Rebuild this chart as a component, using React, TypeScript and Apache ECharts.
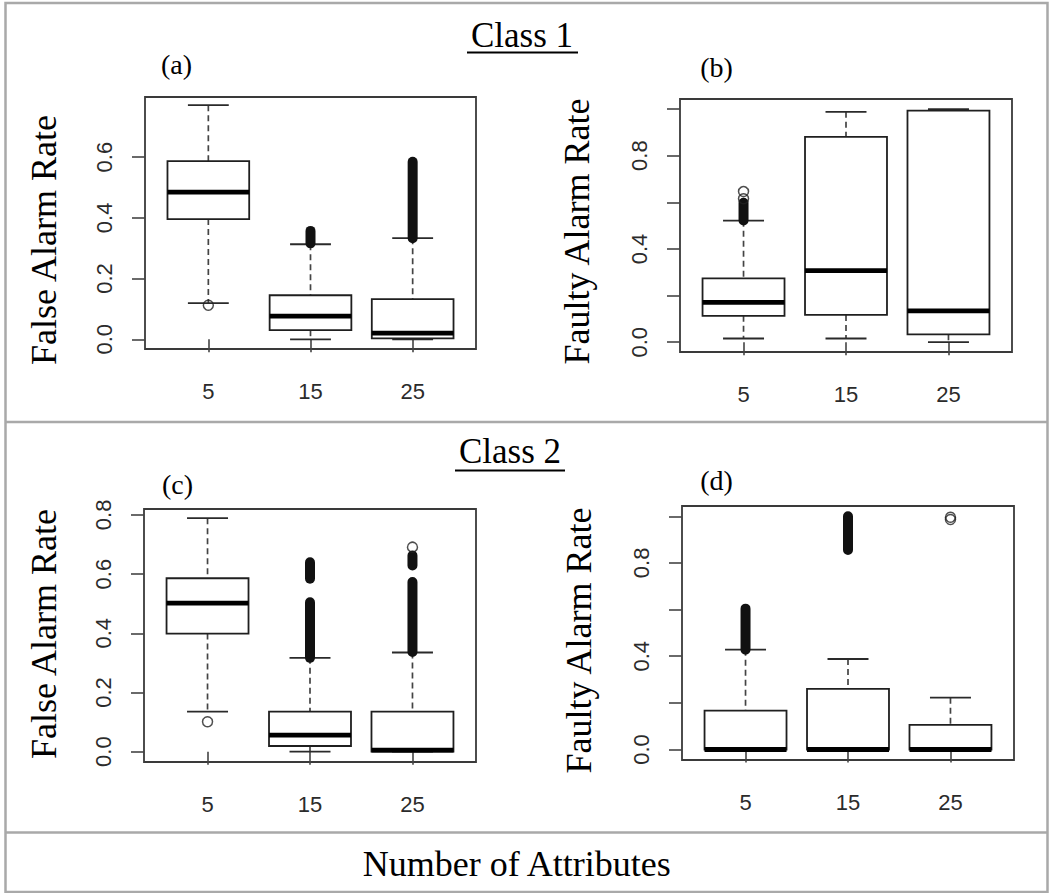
import React, { useEffect, useRef } from 'react';
import * as echarts from 'echarts';

// ---------- data ----------
const xCategories = ['5', '15', '25'];
const xPositions = [1, 2, 3];

// box statistics: [position, lowerWhisker, q1, median, q3, upperWhisker]
const boxesA = [
  [1, 0.119, 0.396, 0.485, 0.587, 0.771],
  [2, 0.0, 0.03, 0.076, 0.145, 0.313],
  [3, 0.0, 0.003, 0.02, 0.132, 0.333],
];
const boxesB = [
  [1, 0.016, 0.113, 0.171, 0.274, 0.521],
  [2, 0.016, 0.117, 0.307, 0.881, 0.988],
  [3, 0.0, 0.034, 0.134, 0.993, 1.0],
];
const boxesC = [
  [1, 0.135, 0.399, 0.502, 0.586, 0.789],
  [2, 0.0, 0.019, 0.056, 0.135, 0.317],
  [3, 0.0, 0.0, 0.005, 0.135, 0.335],
];
const boxesD = [
  [1, 0.0, 0.0, 0.0, 0.167, 0.428],
  [2, 0.0, 0.0, 0.0, 0.26, 0.388],
  [3, 0.0, 0.0, 0.0, 0.106, 0.222],
];

// dense outlier runs: [position, lowest, highest]
const outlierRunsA = [
  [2, 0.316, 0.357],
  [3, 0.333, 0.585],
];
const outlierRunsB = [[1, 0.522, 0.598]];
const outlierRunsC = [
  [2, 0.317, 0.505],
  [2, 0.584, 0.64],
  [3, 0.337, 0.573],
  [3, 0.629, 0.663],
];
const outlierRunsD = [
  [1, 0.428, 0.604],
  [2, 0.855, 1.0],
];

// isolated outliers: [position, value]
const outliersA = [[1, 0.112]];
const outliersB = [
  [1, 0.615],
  [1, 0.646],
];
const outliersC = [
  [1, 0.101],
  [3, 0.691],
];
const outliersD = [
  [3, 0.986],
  [3, 0.996],
];

// y ticks / labels
const yTicksA = [0, 0.2, 0.4, 0.6];
const yLabelsA = [0, 0.2, 0.4, 0.6];
const yTicksB = [0, 0.2, 0.4, 0.6, 0.8, 1.0];
const yLabelsB = [0, 0.4, 0.8];
const yTicksC = [0, 0.2, 0.4, 0.6, 0.8];
const yLabelsC = [0, 0.2, 0.4, 0.6, 0.8];
const yTicksD = [0, 0.2, 0.4, 0.6, 0.8, 1.0];
const yLabelsD = [0, 0.4, 0.8];
const yRangeA = [-0.032, 0.798];
const yRangeB = [-0.042, 1.043];
const yRangeC = [-0.035, 0.82];
const yRangeD = [-0.045, 1.044];

const panelLetters = ['(a)', '(b)', '(c)', '(d)'];
const yTitles = ['False Alarm Rate', 'Faulty Alarm Rate', 'False Alarm Rate', 'Faulty Alarm Rate'];
const classTitles = ['Class 1', 'Class 2'];
const xTitle = 'Number of Attributes';

// ---------- styling ----------
const BOX_WIDTH = 0.8;
const STAPLE_RATIO = 0.5;
const OUTLIER_SIZE = 10;
const SERIF = '"Liberation Serif", "Times New Roman", serif';
const SANS = '"Liberation Sans", Arial, sans-serif';

const grids = [
  { left: 145, top: 97, width: 331, height: 252 },
  { left: 680, top: 99, width: 332, height: 253 },
  { left: 144, top: 509, width: 332, height: 253 },
  { left: 682, top: 506, width: 332, height: 254 },
];

const renderBox = (_params: any, api: any) => {
  const x = api.value(0);
  const lo = api.coord([x, api.value(1)]);
  const q1 = api.coord([x, api.value(2)]);
  const med = api.coord([x, api.value(3)]);
  const q3 = api.coord([x, api.value(4)]);
  const hi = api.coord([x, api.value(5)]);
  const half = api.size([BOX_WIDTH, 0])[0] / 2;
  const cx = med[0];
  const st = half * STAPLE_RATIO;
  const dash = { stroke: '#444', lineWidth: 1.7, lineDash: [6, 4] };
  const solid = { stroke: '#2a2a2a', lineWidth: 1.8 };
  return {
    type: 'group',
    children: [
      { type: 'line', shape: { x1: cx, y1: hi[1], x2: cx, y2: q3[1] }, style: dash },
      { type: 'line', shape: { x1: cx, y1: q1[1], x2: cx, y2: lo[1] }, style: dash },
      { type: 'line', shape: { x1: cx - st, y1: hi[1], x2: cx + st, y2: hi[1] }, style: solid },
      { type: 'line', shape: { x1: cx - st, y1: lo[1], x2: cx + st, y2: lo[1] }, style: solid },
      {
        type: 'rect',
        shape: { x: cx - half, y: q3[1], width: 2 * half, height: q1[1] - q3[1] },
        style: { fill: '#fff', stroke: '#1f1f1f', lineWidth: 1.8 },
      },
      {
        type: 'line',
        shape: { x1: cx - half, y1: med[1], x2: cx + half, y2: med[1] },
        style: { stroke: '#000', lineWidth: 4.8 },
      },
    ],
  };
};

const renderRun = (_params: any, api: any) => {
  const x = api.value(0);
  const lo = api.coord([x, api.value(1)]);
  const hi = api.coord([x, api.value(2)]);
  const r = OUTLIER_SIZE / 2;
  return {
    type: 'rect',
    shape: { x: lo[0] - r, y: hi[1] - r, width: 2 * r, height: lo[1] - hi[1] + 2 * r, r },
    style: { fill: '#111' },
  };
};

export default function App() {
  const ref = useRef<HTMLDivElement>(null);

  useEffect(() => {
    document.body.style.margin = '0';
    if (!ref.current) return;
    const chart = echarts.init(ref.current, undefined, { renderer: 'svg' });

    const boxes = [boxesA, boxesB, boxesC, boxesD];
    const runs = [outlierRunsA, outlierRunsB, outlierRunsC, outlierRunsD];
    const singles = [outliersA, outliersB, outliersC, outliersD];
    const yTicks = [yTicksA, yTicksB, yTicksC, yTicksD];
    const yLabels = [yLabelsA, yLabelsB, yLabelsC, yLabelsD];
    const yRanges = [yRangeA, yRangeB, yRangeC, yRangeD];

    const tickStyle = { color: '#444', width: 1.6 };
    const labelStyle = { fontSize: 22, fontFamily: SANS, color: '#2b2b2b' };

    const series: any[] = [];
    for (let i = 0; i < 4; i++) {
      series.push({
        type: 'custom',
        xAxisIndex: i,
        yAxisIndex: i,
        renderItem: renderBox,
        data: boxes[i],
        silent: true,
        z: 2,
      });
      series.push({
        type: 'custom',
        xAxisIndex: i,
        yAxisIndex: i,
        renderItem: renderRun,
        data: runs[i],
        silent: true,
        z: 3,
      });
      series.push({
        type: 'scatter',
        xAxisIndex: i,
        yAxisIndex: i,
        data: singles[i],
        symbol: 'circle',
        symbolSize: OUTLIER_SIZE,
        itemStyle: { color: 'rgba(255,255,255,0)', borderColor: '#222', borderWidth: 1.5 },
        silent: true,
        z: 4,
      });
    }

    const textEls: any[] = [];
    // outer frame and dividers
    textEls.push({
      type: 'rect',
      shape: { x: 5.5, y: 3, width: 1042, height: 889 },
      style: { fill: 'none', stroke: '#a9a9a9', lineWidth: 2.5 },
    });
    textEls.push({ type: 'line', shape: { x1: 5.5, y1: 422, x2: 1047.5, y2: 422 }, style: { stroke: '#a9a9a9', lineWidth: 2.5 } });
    textEls.push({ type: 'line', shape: { x1: 5.5, y1: 832.5, x2: 1047.5, y2: 832.5 }, style: { stroke: '#a9a9a9', lineWidth: 2.5 } });

    // class titles with underline
    const classPos = [
      { x: 522, y: 35.5, ux1: 467, ux2: 578, uy: 52.5 },
      { x: 510, y: 451.5, ux1: 455, ux2: 565, uy: 470.5 },
    ];
    classTitles.forEach((t, k) => {
      const p = classPos[k];
      textEls.push({
        type: 'text', x: p.x, y: p.y,
        style: { text: t, fontSize: 35, fontFamily: SERIF, fill: '#000', align: 'center', verticalAlign: 'middle' },
      });
      textEls.push({ type: 'line', shape: { x1: p.ux1, y1: p.uy, x2: p.ux2, y2: p.uy }, style: { stroke: '#000', lineWidth: 2 } });
    });

    const letterPos = [
      { x: 176.5, y: 64.5 },
      { x: 716.5, y: 67.5 },
      { x: 177.5, y: 484 },
      { x: 716.5, y: 480.5 },
    ];
    panelLetters.forEach((t, k) => {
      textEls.push({
        type: 'text', x: letterPos[k].x, y: letterPos[k].y,
        style: { text: t, fontSize: 28, fontFamily: SERIF, fill: '#000', align: 'center', verticalAlign: 'middle' },
      });
    });

    const yTitlePos = [
      { x: 43.6, y: 240 },
      { x: 576.6, y: 231.5 },
      { x: 43.6, y: 634 },
      { x: 578.6, y: 640.5 },
    ];
    yTitles.forEach((t, k) => {
      textEls.push({
        type: 'text', x: yTitlePos[k].x, y: yTitlePos[k].y, rotation: Math.PI / 2,
        style: { text: t, fontSize: 36, fontFamily: SERIF, fill: '#000', align: 'center', verticalAlign: 'middle' },
      });
    });

    textEls.push({
      type: 'text', x: 516.7, y: 863.5,
      style: { text: xTitle, fontSize: 36, fontFamily: SERIF, fill: '#000', align: 'center', verticalAlign: 'middle' },
    });

    chart.setOption({
      animation: false,
      backgroundColor: '#fff',
      grid: grids.map((g) => ({
        ...g,
        show: true,
        borderColor: '#3a3a3a',
        borderWidth: 1.8,
        backgroundColor: 'transparent',
        containLabel: false,
      })),
      xAxis: grids.map((_g, i) => ({
        gridIndex: i,
        type: 'value',
        min: 0.38,
        max: 3.62,
        axisLine: { show: false },
        splitLine: { show: false },
        axisTick: { show: true, length: 13, customValues: xPositions, lineStyle: tickStyle },
        axisLabel: {
          ...labelStyle,
          customValues: xPositions,
          margin: 31,
          formatter: (v: number) => xCategories[Math.round(v) - 1] ?? '',
        },
      })),
      yAxis: grids.map((_g, i) => ({
        gridIndex: i,
        type: 'value',
        min: yRanges[i][0],
        max: yRanges[i][1],
        axisLine: { show: false },
        splitLine: { show: false },
        axisTick: { show: true, length: 13, customValues: yTicks[i], lineStyle: tickStyle },
        axisLabel: {
          ...labelStyle,
          customValues: yLabels[i],
          rotate: 90,
          margin: 30,
          formatter: (v: number) => v.toFixed(1),
        },
      })),
      graphic: textEls,
      series,
    });

    return () => chart.dispose();
  }, []);

  return <div ref={ref} style={{ width: 1049, height: 893 }} />;
}
